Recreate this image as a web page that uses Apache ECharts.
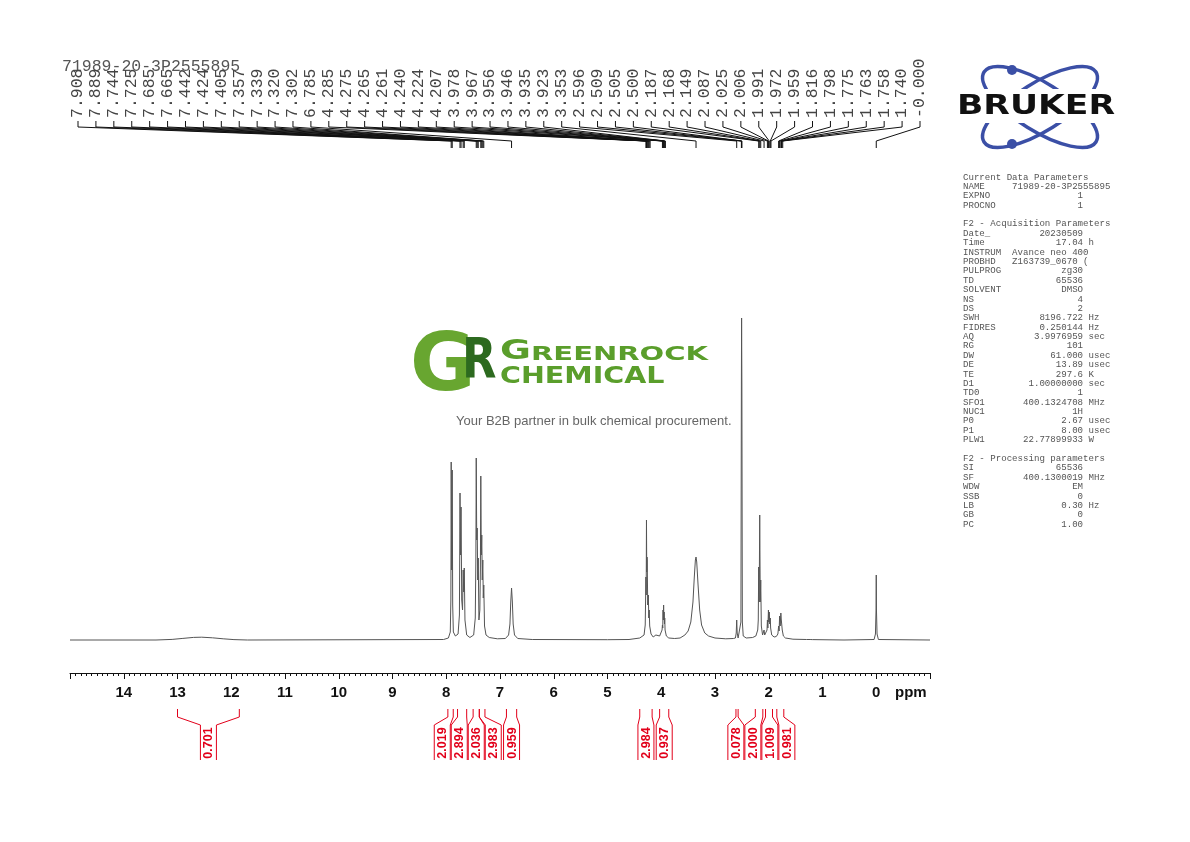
<!DOCTYPE html>
<html>
<head>
<meta charset="utf-8">
<title>1H NMR 71989-20-3P2555895</title>
<script src="https://cdn.jsdelivr.net/npm/echarts/dist/echarts.min.js"></script>
<style>
  html, body { margin: 0; padding: 0; background: #fff; }
  #nmr { width: 1190px; height: 842px; }
</style>
</head>
<body>
<div id="nmr"></div>
<script>
// ---- data (ppm, intensity above baseline) ----
const broadHump = [
  [15, 0], [13.4, 0], [13.1, 0.6], [12.9, 1.6], [12.7, 2.6], [12.55, 2.8], [12.35, 2.2],
  [12.15, 1.2], [11.95, 0.4], [11.7, 0]
];
const aromatic = [
  [8.05, 0.5], [7.96, 2], [7.925, 8], [7.914, 40], [7.908, 178], [7.899, 70], [7.889, 170],
  [7.88, 35], [7.868, 8], [7.83, 4], [7.78, 6], [7.755, 25], [7.744, 147], [7.735, 85],
  [7.725, 133], [7.712, 40], [7.697, 30], [7.685, 70], [7.675, 48], [7.665, 72], [7.652, 20],
  [7.62, 5], [7.56, 2.5], [7.49, 5], [7.46, 22], [7.449, 80], [7.442, 182], [7.433, 100],
  [7.424, 112], [7.414, 60], [7.405, 82], [7.392, 20], [7.375, 30], [7.365, 70], [7.357, 164],
  [7.348, 85], [7.339, 105], [7.33, 60], [7.32, 80], [7.311, 42], [7.302, 55], [7.288, 14],
  [7.26, 5], [7.2, 2.5], [7.05, 1.2], [6.9, 1.5], [6.84, 5], [6.815, 16], [6.8, 38],
  [6.785, 52], [6.77, 38], [6.755, 16], [6.73, 5], [6.67, 1.5], [6.4, 0.5], [5.0, 0.3]
];
const methine = [
  [4.6, 0.5], [4.4, 2], [4.32, 5], [4.298, 15], [4.285, 63], [4.28, 45], [4.275, 120],
  [4.27, 68], [4.265, 83], [4.261, 80], [4.252, 35], [4.24, 45], [4.232, 22], [4.224, 30],
  [4.215, 14], [4.207, 15], [4.19, 6], [4.15, 3], [4.1, 5], [4.07, 4.5], [4.03, 4], [4.0, 6],
  [3.985, 10], [3.978, 15], [3.972, 12], [3.967, 30], [3.961, 20], [3.956, 35], [3.951, 22],
  [3.946, 28], [3.94, 16], [3.935, 22], [3.929, 10], [3.923, 10], [3.905, 4], [3.86, 2], [3.75, 1.5]
];
const water = [
  [3.65, 2], [3.56, 5], [3.5, 9], [3.45, 18], [3.41, 38], [3.385, 63], [3.365, 80], [3.353, 83],
  [3.34, 78], [3.315, 55], [3.285, 30], [3.25, 15], [3.19, 7], [3.12, 4], [3.0, 2], [2.8, 1.2], [2.66, 1.5]
];
const aliphatic = [
  [2.62, 2], [2.605, 7], [2.596, 20], [2.587, 7], [2.57, 2], [2.535, 3], [2.518, 18],
  [2.509, 260], [2.505, 322], [2.5, 255], [2.491, 18], [2.475, 4], [2.42, 2], [2.3, 2.5],
  [2.24, 4], [2.205, 10], [2.195, 20], [2.187, 73], [2.178, 38], [2.168, 125], [2.158, 38],
  [2.149, 60], [2.138, 14], [2.115, 5], [2.098, 6], [2.087, 10], [2.076, 5], [2.045, 5],
  [2.032, 10], [2.025, 20], [2.016, 12], [2.006, 30], [1.998, 18], [1.991, 28], [1.981, 16],
  [1.972, 22], [1.965, 12], [1.959, 14], [1.945, 5], [1.9, 3], [1.86, 3.5], [1.83, 6],
  [1.816, 14], [1.807, 9], [1.798, 24], [1.787, 14], [1.775, 27], [1.768, 21], [1.763, 22],
  [1.758, 20], [1.749, 10], [1.74, 12], [1.728, 4], [1.69, 2], [1.55, 0.8], [1.3, 0.5],
  [1.23, 0.5], [1.21, 2], [1.19, 0.4], [0.6, 0]
];
const tms = [
  [0.04, 0.5], [0.015, 6], [0.004, 30], [0, 65], [-0.004, 30], [-0.015, 6], [-0.04, 0.5], [-1, 0]
];

// peak picking labels (top)
const peakLabels = [
  "7.908", "7.889", "7.744", "7.725", "7.685", "7.665", "7.442", "7.424", "7.405", "7.357",
  "7.339", "7.320", "7.302", "6.785", "4.285", "4.275", "4.265", "4.261", "4.240", "4.224",
  "4.207", "3.978", "3.967", "3.956", "3.946", "3.935", "3.923", "3.353", "2.596", "2.509",
  "2.505", "2.500", "2.187", "2.168", "2.149", "2.087", "2.025", "2.006", "1.991", "1.972",
  "1.959", "1.816", "1.798", "1.775", "1.763", "1.758", "1.740", "-0.000"
];

// integration regions (ppm from, ppm to) and values
const integralFrom = [13.0, 7.97, 7.79, 7.50, 7.385, 6.88, 4.40, 4.03, 2.61, 2.25, 2.06, 1.85];
const integralTo = [11.85, 7.87, 7.62, 7.385, 7.28, 6.69, 4.17, 3.86, 2.57, 2.11, 1.93, 1.72];
const integralValues = ["0.701", "2.019", "2.894", "2.036", "2.983", "0.959", "2.984", "0.937", "0.078", "2.000", "1.009", "0.981"];

// parameter panel text
const currentParams = [["NAME", "71989-20-3P2555895", ""], ["EXPNO", "1", ""], ["PROCNO", "1", ""]];
const acqParams = [
  ["Date_", "20230509", ""], ["Time", "17.04", "h"], ["INSTRUM", "Avance neo 400", ""],
  ["PROBHD", "Z163739_0670 (", ""], ["PULPROG", "zg30", ""], ["TD", "65536", ""],
  ["SOLVENT", "DMSO", ""], ["NS", "4", ""], ["DS", "2", ""], ["SWH", "8196.722", "Hz"],
  ["FIDRES", "0.250144", "Hz"], ["AQ", "3.9976959", "sec"], ["RG", "101", ""],
  ["DW", "61.000", "usec"], ["DE", "13.89", "usec"], ["TE", "297.6", "K"],
  ["D1", "1.00000000", "sec"], ["TD0", "1", ""], ["SFO1", "400.1324708", "MHz"],
  ["NUC1", "1H", ""], ["P0", "2.67", "usec"], ["P1", "8.00", "usec"], ["PLW1", "22.77899933", "W"]
];
const procParams = [
  ["SI", "65536", ""], ["SF", "400.1300019", "MHz"], ["WDW", "EM", ""], ["SSB", "0", ""],
  ["LB", "0.30", "Hz"], ["GB", "0", ""], ["PC", "1.00", ""]
];

const spectrum = [].concat(broadHump, aromatic, methine, water, aliphatic, tms);

// ---- layout ----
const RED = "#e2001a";
const LABEL_LEFT = 78, LABEL_RIGHT = 920; // top peak labels spread
const BOX_W = 16, BOX_GAP = 17;          // integral label boxes

function paramLine(p) {
  return p[0].padEnd(9) + p[1].padStart(13) + (p[2] ? " " + p[2] : "");
}
const panelText = ["Current Data Parameters"]
  .concat(currentParams.map(paramLine), [""], ["F2 - Acquisition Parameters"],
    acqParams.map(paramLine), [""], ["F2 - Processing parameters"], procParams.map(paramLine))
  .join("\n");

// top peak labels with their leader lines
function renderPeak(params, api) {
  const i = params.dataIndex;
  const n = peakLabels.length;
  const lx = LABEL_LEFT + i * (LABEL_RIGHT - LABEL_LEFT) / (n - 1);
  const px = api.coord([api.value(0), 0])[0];
  return {
    type: "group",
    children: [
      {
        type: "polyline",
        shape: { points: [[lx, 121], [lx, 127], [px, 141], [px, 148]] },
        style: { stroke: "#111", lineWidth: 1, fill: "none" }
      },
      {
        type: "text",
        x: lx, y: 118, rotation: Math.PI / 2,
        style: { text: peakLabels[i], font: '16.5px "Liberation Mono"', fill: "#444", align: "left", verticalAlign: "middle" }
      }
    ]
  };
}

// integral brackets, boxes pushed apart so they do not overlap
function integralCenters(api) {
  const want = integralFrom.map((f, k) => (api.coord([f, 0])[0] + api.coord([integralTo[k], 0])[0]) / 2);
  let groups = want.map((w, k) => ({ start: k, n: 1, sum: w }));
  let merged = true;
  while (merged) {
    merged = false;
    for (let g = 0; g < groups.length - 1; g++) {
      const a = groups[g], b = groups[g + 1];
      const aEnd = a.sum / a.n + (a.n - 1) / 2 * BOX_GAP;
      const bStart = b.sum / b.n - (b.n - 1) / 2 * BOX_GAP;
      if (bStart - aEnd < BOX_GAP) {
        groups.splice(g, 2, { start: a.start, n: a.n + b.n, sum: a.sum + b.sum });
        merged = true;
        break;
      }
    }
  }
  const pos = [];
  groups.forEach(g => {
    const c = g.sum / g.n;
    for (let k = 0; k < g.n; k++) pos[g.start + k] = c + (k - (g.n - 1) / 2) * BOX_GAP;
  });
  return pos;
}

function renderIntegral(params, api) {
  const i = params.dataIndex;
  const c = integralCenters(api)[i];
  const x1 = api.coord([api.value(0), 0])[0];
  const x2 = api.coord([api.value(1), 0])[0];
  const bl = c - BOX_W / 2, br = c + BOX_W / 2;
  const st = { stroke: RED, lineWidth: 1, fill: "none" };
  return {
    type: "group",
    children: [
      { type: "polyline", shape: { points: [[x1, 709], [x1, 717], [bl, 725], [bl, 760]] }, style: st },
      { type: "polyline", shape: { points: [[x2, 709], [x2, 717], [br, 725], [br, 760]] }, style: st },
      {
        type: "text", x: c + 0.5, y: 743, rotation: Math.PI / 2,
        style: { text: integralValues[i], font: 'bold 12.5px "Liberation Sans"', fill: RED, align: "center", verticalAlign: "middle" }
      }
    ]
  };
}

const chart = echarts.init(document.getElementById("nmr"));
const option = {
  backgroundColor: "#fff",
  animation: false,
  grid: { left: 70, right: 260, top: 300, bottom: 169 },
  xAxis: {
    type: "value",
    min: -1, max: 15, interval: 1, inverse: true,
    axisLine: { onZero: false, lineStyle: { color: "#111", width: 1 } },
    axisTick: { length: 6, lineStyle: { color: "#111" } },
    minorTick: { show: true, splitNumber: 10, length: 3, lineStyle: { color: "#111" } },
    splitLine: { show: false },
    axisLabel: {
      showMinLabel: false, showMaxLabel: false, margin: 12,
      color: "#111", fontSize: 15, fontWeight: "bold", fontFamily: "Liberation Sans"
    }
  },
  yAxis: { type: "value", min: -33, max: 340, show: false },
  series: [
    {
      name: "1H",
      type: "line",
      data: spectrum,
      symbol: "none",
      lineStyle: { color: "#555", width: 1 },
      z: 3
    },
    {
      name: "peaks",
      type: "custom",
      clip: false,
      renderItem: renderPeak,
      data: peakLabels.map((s, i) => [parseFloat(s), i]),
      z: 4
    },
    {
      name: "integrals",
      type: "custom",
      clip: false,
      renderItem: renderIntegral,
      data: integralFrom.map((f, i) => [f, integralTo[i]]),
      z: 4
    }
  ],
  graphic: [
    // sample name
    { type: "text", x: 62, y: 67, style: { text: "71989-20-3P2555895", font: '16.5px "Liberation Mono"', fill: "#555", verticalAlign: "middle" } },
    // ppm unit
    { type: "text", x: 895, y: 693, style: { text: "ppm", font: 'bold 15px "Liberation Sans"', fill: "#111", verticalAlign: "middle" } },
    // parameter panel
    { type: "text", x: 963, y: 172.5, style: { text: panelText, font: '9.1px "Liberation Mono"', lineHeight: 9.38, fill: "#555", verticalAlign: "top" } },
    // Bruker logo
    { type: "ellipse", x: 1040, y: 107, rotation: 32 * Math.PI / 180, shape: { cx: 0, cy: 0, rx: 66, ry: 24 }, style: { fill: "none", stroke: "#3b4fa6", lineWidth: 3.5 } },
    { type: "ellipse", x: 1040, y: 107, rotation: -32 * Math.PI / 180, shape: { cx: 0, cy: 0, rx: 66, ry: 24 }, style: { fill: "none", stroke: "#3b4fa6", lineWidth: 3.5 } },
    { type: "circle", shape: { cx: 1012, cy: 70, r: 5 }, style: { fill: "#3b4fa6" } },
    { type: "circle", shape: { cx: 1012, cy: 144, r: 5 }, style: { fill: "#3b4fa6" } },
    { type: "rect", shape: { x: 955, y: 89, width: 163, height: 34 }, style: { fill: "#fff" } },
    { type: "text", x: 957, y: 107, scaleX: 1.28, style: { text: "BRUKER", font: 'bold 27px "DejaVu Sans"', fill: "#111", verticalAlign: "middle" } },
    // Greenrock watermark
    { type: "text", x: 410, y: 369, style: { text: "G", font: 'bold 80px "DejaVu Sans"', fill: "#68a630", verticalAlign: "middle" } },
    { type: "text", x: 462, y: 362, scaleX: 0.8, style: { text: "R", font: 'bold 56px "DejaVu Sans"', fill: "#2d6a1f", verticalAlign: "middle" } },
    { type: "text", x: 500, y: 352.5, scaleX: 1.45, style: { text: "G", font: 'bold 26px "DejaVu Sans"', fill: "#5a9e2b", verticalAlign: "middle" } },
    { type: "text", x: 531, y: 354.7, scaleX: 1.45, style: { text: "REENROCK", font: 'bold 20px "DejaVu Sans"', fill: "#5a9e2b", verticalAlign: "middle" } },
    { type: "text", x: 500, y: 377, scaleX: 1.24, style: { text: "CHEMICAL", font: 'bold 23px "DejaVu Sans"', fill: "#5a9e2b", verticalAlign: "middle" } },
    { type: "text", x: 456, y: 421, style: { text: "Your B2B partner in bulk chemical procurement.", font: '13px "Liberation Sans"', fill: "#666", verticalAlign: "middle" } }
  ]
};
chart.setOption(option);
</script>
</body>
</html>
